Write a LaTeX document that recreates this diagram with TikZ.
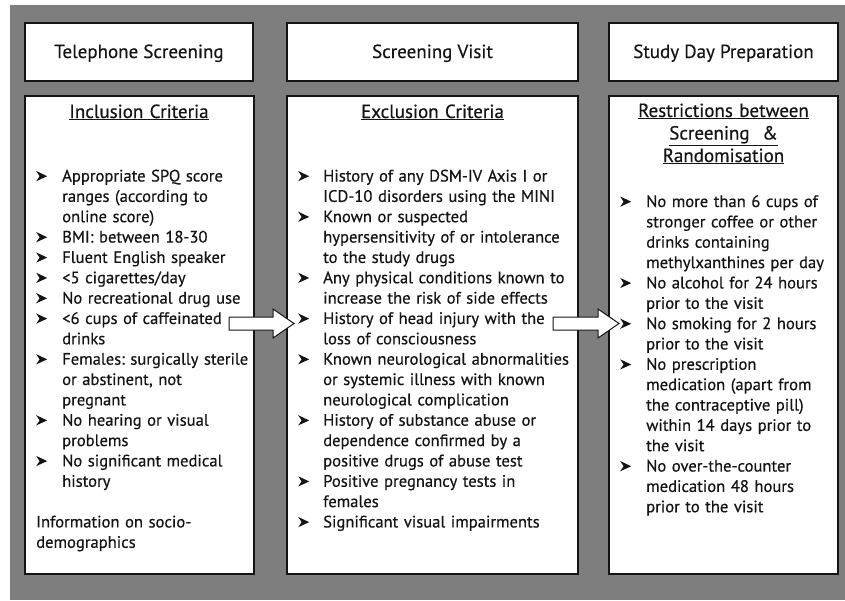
\documentclass[tikz,border=0pt]{standalone}
\usepackage{fontspec}
\setmainfont[FakeBold=0.4]{PT Sans}
\newfontfamily\bodyfont[FakeBold=0.45,WordSpace=0.6]{PT Sans}
\definecolor{bggray}{HTML}{7E7E7E}
\definecolor{ink}{HTML}{141414}
\newcommand\arrowbullet{\tikz[baseline=0pt,x=1pt,y=1pt]{\fill[ink] (0,0.3) -- (11,5.3) -- (0,10.5) -- (3.4,5.3) -- cycle;}}
\newcommand\bl{\makebox[26pt][l]{\arrowbullet}}
\newcommand\bm{\makebox[25pt][l]{\arrowbullet}}
\newcommand\cl{\hspace*{26pt}}
\newcommand\cm{\hspace*{25pt}}
\tikzset{
 box/.style={draw=ink, fill=white, line width=1.3pt},
 title/.style={font=\fontsize{19}{22}\selectfont, text=ink, inner sep=0, anchor=base},
 head/.style={font=\fontsize{19}{22.5}\selectfont, text=ink, inner sep=0, text width=230pt, align=center, anchor=base},
 body/.style={anchor=base west, inner sep=0, text width=420pt, align=left, font=\bodyfont\fontsize{16.6}{20.35}\selectfont\frenchspacing, text=ink},
 blockarrow/.style={draw=ink, fill=white, line width=1pt, line join=miter},
}
\begin{document}
\begin{tikzpicture}[x=1pt,y=-1pt]
\useasboundingbox (0,0) rectangle (845,600);
\fill[white] (0,0) rectangle (845,600);
\fill[bggray] (10,5) rectangle (845,600);
% top boxes
\draw[box] (25,23) rectangle (253,81);
\draw[box] (287,23) rectangle (578,81);
\draw[box] (609,23) rectangle (838,81);
% bottom boxes
\draw[box] (25,96) rectangle (254,574);
\draw[box] (287,96) rectangle (578,574);
\draw[box] (609,96) rectangle (838,574);
% titles
\node[title] (t1) at (139,58) {Telephone Screening};
\node[title] (t2) at (432.5,58) {Screening Visit};
\node[title] (t3) at (723.5,58) {Study Day Preparation};
% headers
\node[head] (h1) at (139,118) {\underline{Inclusion Criteria}};
\node[head] (h2) at (432.5,118) {\underline{Exclusion Criteria}};
\node[head] (h3) at (723.5,117) {\underline{Restrictions between}\\\underline{Screening~~\&}\\\underline{Randomisation}};
% column 1
\node[body] (c1) at (36,181.5) {\bl Appropriate SPQ score\\
\cl ranges (according to\\
\cl online score)\\
\bl BMI: between 18-30\\
\bl Fluent English speaker\\
\bl <5 cigarettes/day\\
\bl No recreational drug use\\
\bl <6 cups of caffeinated\\
\cl drinks\\
\bl Females: surgically sterile\\
\cl or abstinent, not\\
\cl pregnant\\
\bl No hearing or visual\\
\cl problems\\
\bl No significant medical\\
\cl history\\
\mbox{}\\
Information on socio-\\
demographics};
% column 2
\node[body] (c2) at (298,181.5) {\bm History of any DSM-IV Axis I or\\
\cm ICD-10 disorders using the MINI\\
\bm Known or suspected\\
\cm hypersensitivity of or intolerance\\
\cm to the study drugs\\
\bm Any physical conditions known to\\
\cm increase the risk of side effects\\
\bm History of head injury with the\\
\cm loss of consciousness\\
\bm Known neurological abnormalities\\
\cm or systemic illness with known\\
\cm neurological complication\\
\bm History of substance abuse or\\
\cm dependence confirmed by a\\
\cm positive drugs of abuse test\\
\bm Positive pregnancy tests in\\
\cm females\\
\bm Significant visual impairments};
% column 3
\node[body] (c3) at (620,207) {\bl No more than 6 cups of\\
\cl stronger coffee or other\\
\cl drinks containing\\
\cl methylxanthines per day\\
\bl No alcohol for 24 hours\\
\cl prior to the visit\\
\bl No smoking for 2 hours\\
\cl prior to the visit\\
\bl No prescription\\
\cl medication (apart from\\
\cl the contraceptive pill)\\
\cl within 14 days prior to\\
\cl the visit\\
\bl No over-the-counter\\
\cl medication 48 hours\\
\cl prior to the visit};
% block arrows
\draw[blockarrow] (229,317) -- (273,317) -- (273,309) -- (294,323.5) -- (273,338) -- (273,330) -- (229,330) -- cycle;
\draw[blockarrow] (553,317) -- (598,317) -- (598,309) -- (619,323.5) -- (598,338) -- (598,330) -- (553,330) -- cycle;
\end{tikzpicture}
\end{document}
